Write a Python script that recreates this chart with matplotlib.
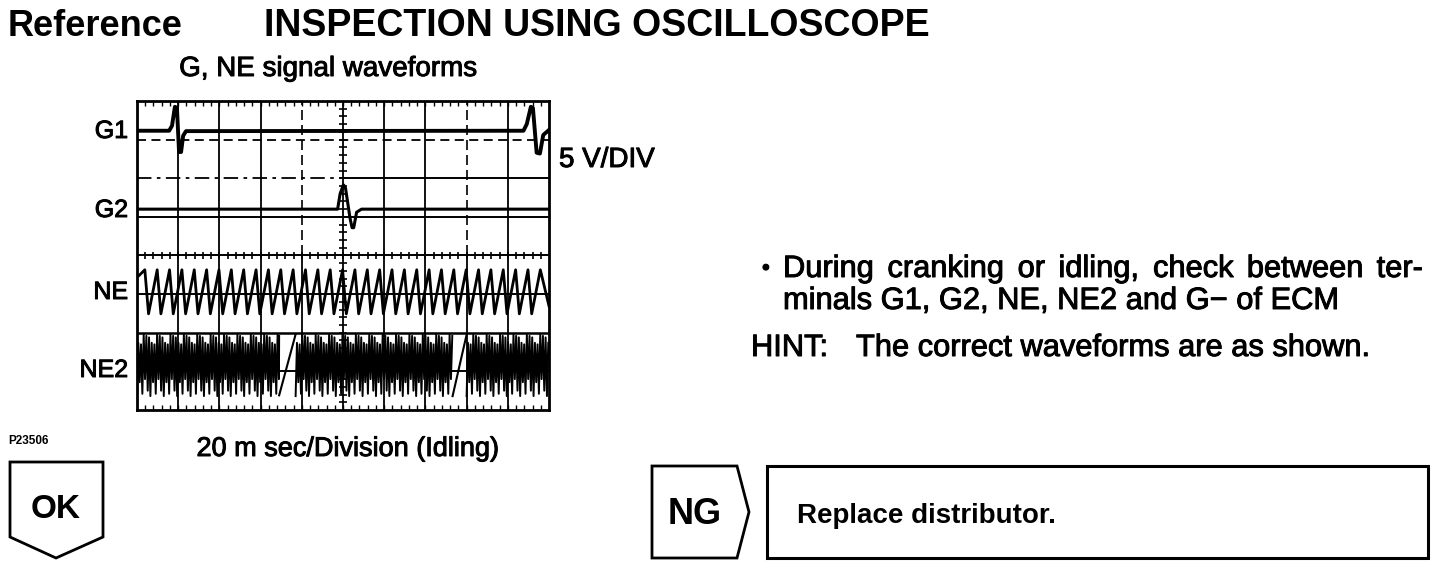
import numpy as np
import matplotlib
matplotlib.use("Agg")
import matplotlib.pyplot as plt
from matplotlib.patches import Polygon, Rectangle
import matplotlib.patheffects as pe

# ---------------- data (in oscilloscope divisions) ----------------
# G1 trace: baseline with two pulses
g1_x = [0, 0.78, 0.85, 0.92, 0.97, 1.02, 1.07, 1.12, 1.19,
        9.38, 9.46, 9.56, 9.61, 9.70, 9.78, 9.86, 10.0]
g1_y = [7.23, 7.23, 7.36, 7.85, 7.82, 6.68, 6.68, 7.10, 7.22,
        7.23, 7.40, 7.85, 7.82, 6.66, 6.64, 7.12, 7.25]
# G2 trace: baseline with one pulse
g2_x = [0, 4.87, 4.93, 5.01, 5.06, 5.17, 5.22, 5.26, 5.33, 5.45, 10.0]
g2_y = [5.20, 5.20, 5.60, 5.83, 5.75, 4.97, 4.72, 4.72, 5.12, 5.20, 5.20]
# NE trace: sawtooth teeth (peak positions and levels)
ne_peaks = [0.19, 0.49, 0.79, 1.09, 1.39, 1.69, 1.99, 2.29, 2.59, 2.89, 3.19,
            3.49, 3.79, 4.09, 4.39, 4.69, 4.99, 5.29, 5.59, 5.89, 6.19, 6.49,
            6.79, 7.09, 7.39, 7.69, 7.99, 8.29, 8.59, 8.89, 9.19, 9.49, 9.79]
ne_high = 3.63
ne_low = 2.49
ne_rise = 0.21
# NE2 trace: dense oscillation bursts separated by single ramps
ne2_bursts = [(0.0, 3.45), (3.85, 7.66), (8.00, 10.0)]
ne2_ramps = [(3.45, 0.38, 3.85, 1.96), (7.66, 0.36, 8.00, 1.95)]
ne2_period = 0.065
ne2_peak_levels = [1.96, 1.74, 1.92, 1.70, 1.88]
ne2_trough_levels = [0.36, 0.72, 0.42, 0.80, 0.50]
row_labels = ["G1", "G2", "NE", "NE2"]
row_label_y = [131, 210, 292, 370]

FAM = ["Liberation Sans", "DejaVu Sans"]
HEAVY = [pe.withStroke(linewidth=0.7, foreground="black")]

fig = plt.figure(figsize=(14.4, 5.66), dpi=100)
fig.patch.set_facecolor("white")

# overlay axes in pixel coordinates for text and boxes
ov = fig.add_axes([0, 0, 1, 1])
ov.set_xlim(0, 1440)
ov.set_ylim(566, 0)
ov.axis("off")

# ---------------- oscilloscope screen ----------------
sc = fig.add_axes([137 / 1440, (566 - 410) / 566, 412 / 1440, 309 / 566])
sc.set_xlim(0, 10)
sc.set_ylim(0, 8)
sc.set_xticks([])
sc.set_yticks([])
for s in sc.spines.values():
    s.set_linewidth(2.0)
    s.set_color("black")

for i in range(1, 10):
    if i in (4, 8):
        sc.plot([i, i], [4, 8], color="black", lw=1.2, ls=(0, (6, 3)), zorder=1)
        sc.plot([i, i], [0, 4], color="black", lw=1.3, zorder=1)
    else:
        sc.axvline(i, color="black", lw=1.3, zorder=1)
for j in range(1, 8):
    if j == 7:
        sc.axhline(j, color="black", lw=1.3, ls=(0, (5, 3)), zorder=1)
    elif j == 6:
        sc.plot([0, 5], [j, j], color="black", lw=1.3, ls=(0, (8, 3, 2, 3)), zorder=1)
        sc.plot([5, 10], [j, j], color="black", lw=1.4, zorder=1)
    else:
        sc.axhline(j, color="black", lw=1.4 if j != 2 else 1.8, zorder=1)

# centre graticule ticks
tx = np.arange(0.2, 10, 0.2)
sc.vlines(tx, 4 - 0.09, 4 + 0.09, color="black", lw=1.2, zorder=1)
sc.vlines(tx, 8 - 0.12, 8, color="black", lw=1.0, zorder=1)
sc.vlines(tx, 0, 0.12, color="black", lw=1.0, zorder=1)
ty = np.arange(0.2, 8, 0.2)
sc.hlines(ty, 5 - 0.1, 5 + 0.1, color="black", lw=1.2, zorder=1)

# G1, G2
sc.plot(g1_x, g1_y, color="black", lw=2.8, zorder=3, solid_joinstyle="round")
sc.plot(g2_x, g2_y, color="black", lw=2.2, zorder=3, solid_joinstyle="round")

# NE sawtooth
ne_x, ne_y = [0.0], [ne_high - 0.2]
for p in ne_peaks:
    if p - ne_rise > 0:
        ne_x.append(p - ne_rise)
        ne_y.append(ne_low)
    ne_x.append(p)
    ne_y.append(ne_high)
ne_x.append(10.0)
ne_y.append(ne_low + 0.2)
sc.plot(ne_x, ne_y, color="black", lw=2.0, zorder=3)

# NE2 bursts
for a, b in ne2_bursts:
    xs, ys = [], []
    k = 0
    x = a
    n = len(ne2_peak_levels)
    while x < b:
        xs.append(x)
        ys.append(ne2_trough_levels[k % n])
        xm = min(x + ne2_period / 2, b)
        xs.append(xm)
        ys.append(ne2_peak_levels[(k * 2 + 1) % n])
        x += ne2_period
        k += 1
    sc.plot(xs, ys, color="black", lw=1.4, zorder=3)
for x0, y0, x1, y1 in ne2_ramps:
    sc.plot([x0, x1], [y0, y1], color="black", lw=1.5, zorder=3)

# ---------------- texts ----------------
def T(x, y, s, size, weight="normal", ha="left", va="baseline", heavy=True, **kw):
    t = ov.text(x, y, s, fontsize=size, fontweight=weight, ha=ha, va=va,
                family=FAM, color="black", **kw)
    if heavy and weight == "normal":
        t.set_path_effects(HEAVY)
    return t

T(8, 36, "Reference", 26, "bold")
T(264, 36, "INSPECTION USING OSCILLOSCOPE", 27, "bold")
T(328, 69, "G, NE signal waveforms", 20, ha="center", va="center")
for lab, yy in zip(row_labels, row_label_y):
    T(128, yy, lab, 18, ha="right", va="center")
T(559, 160, "5 V/DIV", 20, va="center")
T(348, 449, "20 m sec/Division (Idling)", 19.5, ha="center", va="center")
T(8, 441, "P23506", 8.5, "bold", va="center")

# bullet text (justified first line)
BODY = 22.2
T(762, 269, "\u2022", 16, va="center")
words = ["During", "cranking", "or", "idling,", "check", "between", "ter-"]
wt = [T(0, 269, w, BODY, va="center") for w in words]
fig.canvas.draw()
r = fig.canvas.get_renderer()
inv = ov.transData.inverted()
widths = []
for t in wt:
    bb = t.get_window_extent(r)
    p0 = inv.transform((bb.x0, bb.y0))
    p1 = inv.transform((bb.x1, bb.y0))
    widths.append(p1[0] - p0[0])
left, right = 783, 1423
gap = (right - left - sum(widths)) / (len(words) - 1)
xcur = left
for t, w in zip(wt, widths):
    t.set_x(xcur)
    xcur += w + gap
T(783, 301, "minals G1, G2, NE, NE2 and G\u2212 of ECM", BODY, va="center")
T(751, 348, "HINT:", BODY, va="center")
T(856, 348, "The correct waveforms are as shown.", BODY, va="center")

# ---------------- OK / NG boxes ----------------
ok = Polygon([[10, 462], [103, 462], [103, 537], [56, 558], [10, 537]],
             closed=True, fill=False, ec="black", lw=2.0)
ov.add_patch(ok)
T(56, 510, "OK", 24, "bold", ha="center", va="center")

ng = Polygon([[652, 466], [737, 466], [749, 512], [737, 558], [652, 558]],
             closed=True, fill=False, ec="black", lw=2.0)
ov.add_patch(ng)
T(695, 514, "NG", 26, "bold", ha="center", va="center")

ov.add_patch(Rectangle((767, 466), 1428 - 767, 558 - 466, fill=False, ec="black", lw=2.2))
T(797, 516, "Replace distributor.", 20, "bold", va="center")

fig.savefig("out.png", dpi=100, facecolor="white")
